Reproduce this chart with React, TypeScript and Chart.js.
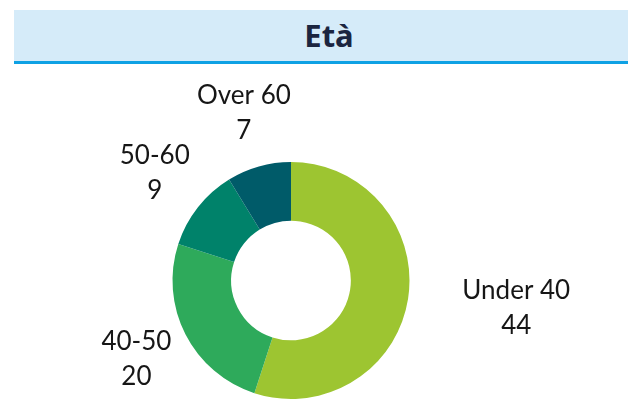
import React, { useEffect, useRef } from "react";
import { Chart, registerables } from "chart.js";

Chart.register(...registerables);

const TITLE = "Età";
const categories = ["Under 40", "40-50", "50-60", "Over 60"];
const values = [44, 20, 9, 7];
const colors = ["#9dc531", "#2eaa5b", "#00826a", "#005b69"];

const labelPlugin = {
  id: "outerLabels",
  afterDatasetsDraw(chart: any) {
    const ctx = chart.ctx;
    const meta = chart.getDatasetMeta(0);
    ctx.save();
    ctx.font = "26px Lato";
    ctx.fillStyle = "#161616";
    ctx.textBaseline = "middle";
    meta.data.forEach((arc: any, i: number) => {
      const { x, y, startAngle, endAngle, outerRadius } = arc.getProps(
        ["x", "y", "startAngle", "endAngle", "outerRadius"],
        true
      );
      const mid = (startAngle + endAngle) / 2;
      const dx = Math.cos(mid);
      const dy = Math.sin(mid);
      const d = outerRadius + 55;
      const px = x + dx * d;
      const py = y + dy * d;
      ctx.textAlign = dx > 0.5 ? "left" : "center";
      ctx.fillText(String(chart.data.labels[i]), px, py - 17.5);
      const v = chart.data.datasets[0].data[i];
      const lineW = ctx.measureText(String(chart.data.labels[i])).width;
      if (dx > 0.5) {
        ctx.textAlign = "center";
        ctx.fillText(String(v), px + lineW / 2, py + 17.5);
      } else {
        ctx.fillText(String(v), px, py + 17.5);
      }
    });
    ctx.restore();
  },
};

export default function App() {
  const ref = useRef<HTMLCanvasElement>(null);
  useEffect(() => {
    if (!ref.current) return;
    const chart = new Chart(ref.current, {
      type: "doughnut",
      data: {
        labels: categories,
        datasets: [
          {
            data: values,
            backgroundColor: colors,
            borderWidth: 0,
          },
        ],
      },
      options: {
        animation: false,
        responsive: false,
        maintainAspectRatio: false,
        cutout: "50.5%",
        layout: { padding: { left: 172.5, right: 218.5, top: 98, bottom: 11 } },
        plugins: {
          legend: { display: false },
          tooltip: { enabled: false },
          title: { display: false },
        },
      },
      plugins: [labelPlugin],
    });
    return () => chart.destroy();
  }, []);

  return (
    <div
      style={{
        position: "absolute",
        left: 0,
        top: 0,
        width: 628,
        height: 410,
        overflow: "hidden",
        background: "#ffffff",
      }}
    >
      <div
        style={{
          position: "absolute",
          left: 14,
          top: 10,
          width: 614,
          height: 51,
          background: "#d5ebf9",
          borderBottom: "3px solid #0ea1e4",
        }}
      >
        <div
          style={{
            position: "absolute",
            left: 0,
            width: 630,
            top: 0,
            height: 51,
            lineHeight: "51px",
            textAlign: "center",
            fontFamily: "'Noto Sans', sans-serif",
            fontWeight: 700,
            fontSize: 31,
            color: "#1b2540",
          }}
        >
          {TITLE}
        </div>
      </div>
      <canvas
        ref={ref}
        width={628}
        height={346}
        style={{ position: "absolute", left: 0, top: 64, width: 628, height: 346 }}
      />
    </div>
  );
}
